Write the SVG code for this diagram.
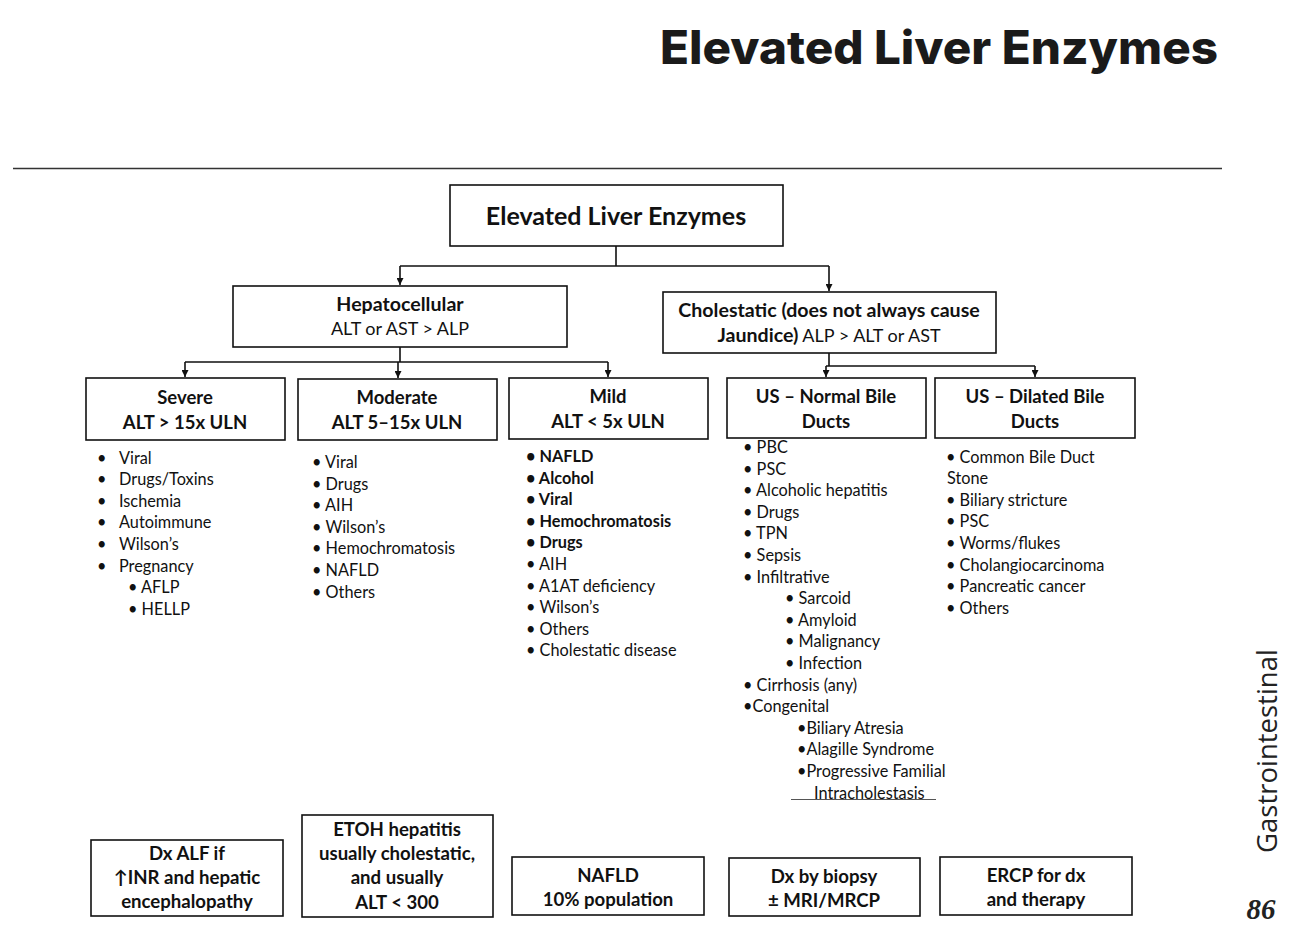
<svg xmlns="http://www.w3.org/2000/svg" width="1293" height="944" viewBox="0 0 1293 944">
<defs>
<style>
.box{fill:#fff;stroke:#111;stroke-width:1.6}
.ln{fill:none;stroke:#111;stroke-width:1.6}
.t{font-family:Lato,"Liberation Sans",sans-serif;fill:#111}
.hd{font-size:18.5px;font-weight:700;text-anchor:middle}
.sub{font-size:18px;text-anchor:middle}
.li{font-size:16.3px}
.b{font-weight:700}
.bt{font-size:18.6px;font-weight:700;text-anchor:middle}
</style>
<marker id="ar" viewBox="0 0 10 10" refX="10" refY="5" markerWidth="7" markerHeight="7" markerUnits="userSpaceOnUse" orient="auto">
<path d="M0,0 L10,5 L0,10 z" fill="#111"/>
</marker>
</defs>
<rect width="1293" height="944" fill="#fff"/>
<text x="1218" y="64" text-anchor="end" textLength="558" lengthAdjust="spacingAndGlyphs" style="font-family:Inter,'Open Sans',sans-serif;font-size:46px;font-weight:800;fill:#1a1a1a">Elevated Liver Enzymes</text>
<line x1="13" y1="168.5" x2="1222" y2="168.5" stroke="#333" stroke-width="1.3"/>

<g id="connectors">
<path class="ln" d="M616,246 V266 M400,266 H829"/>
<path class="ln" d="M400,266 V285" marker-end="url(#ar)"/>
<path class="ln" d="M829,266 V291" marker-end="url(#ar)"/>
<path class="ln" d="M400,347 V362 M185,362 H608"/>
<path class="ln" d="M185,362 V377" marker-end="url(#ar)"/>
<path class="ln" d="M398,362 V378" marker-end="url(#ar)"/>
<path class="ln" d="M608,362 V377" marker-end="url(#ar)"/>
<path class="ln" d="M829,353 V366 M826,366 H1035"/>
<path class="ln" d="M826,366 V377" marker-end="url(#ar)"/>
<path class="ln" d="M1035,366 V377" marker-end="url(#ar)"/>
</g>

<g id="root">
<rect class="box" x="450" y="185" width="333" height="61"/>
<text class="t" x="616" y="225" text-anchor="middle" style="font-size:25px;font-weight:700">Elevated Liver Enzymes</text>
</g>

<g id="hepatocellular">
<rect class="box" x="233" y="286" width="334" height="61"/>
<text class="t hd" x="400" y="311" style="font-size:19.6px">Hepatocellular</text>
<text class="t sub" x="400" y="335">ALT or AST &gt; ALP</text>
</g>

<g id="cholestatic">
<rect class="box" x="663" y="292" width="333" height="61"/>
<text class="t hd" x="829" y="317" style="font-size:19.6px">Cholestatic (does not always cause</text>
<text class="t sub" x="829" y="342"><tspan class="b" style="font-size:19.6px">Jaundice)</tspan> ALP &gt; ALT or AST</text>
</g>

<g id="severe">
<rect class="box" x="86" y="378" width="199" height="62"/>
<text class="t hd" x="185" y="404">Severe</text>
<text class="t hd" x="185" y="429">ALT &gt; 15x ULN</text>
<g class="t li">
<text x="97" y="464">•</text><text x="119" y="464">Viral</text>
<text x="97" y="485">•</text><text x="119" y="485">Drugs/Toxins</text>
<text x="97" y="507">•</text><text x="119" y="507">Ischemia</text>
<text x="97" y="528">•</text><text x="119" y="528">Autoimmune</text>
<text x="97" y="550">•</text><text x="119" y="550">Wilson’s</text>
<text x="97" y="572">•</text><text x="119" y="572">Pregnancy</text>
<text x="128" y="593">• AFLP</text>
<text x="128" y="615">• HELLP</text>
</g>
</g>

<g id="moderate">
<rect class="box" x="298" y="379" width="199" height="61"/>
<text class="t hd" x="397" y="404">Moderate</text>
<text class="t hd" x="397" y="429">ALT 5–15x ULN</text>
<g class="t li">
<text x="312" y="468">• Viral</text>
<text x="312" y="490">• Drugs</text>
<text x="312" y="511">• AIH</text>
<text x="312" y="533">• Wilson’s</text>
<text x="312" y="554">• Hemochromatosis</text>
<text x="312" y="576">• NAFLD</text>
<text x="312" y="598">• Others</text>
</g>
</g>

<g id="mild">
<rect class="box" x="509" y="378" width="199" height="61"/>
<text class="t hd" x="608" y="403">Mild</text>
<text class="t hd" x="608" y="428">ALT &lt; 5x ULN</text>
<g class="t li">
<text x="526" y="462" class="b">• NAFLD</text>
<text x="526" y="484" class="b">• Alcohol</text>
<text x="526" y="505" class="b">• Viral</text>
<text x="526" y="527" class="b">• Hemochromatosis</text>
<text x="526" y="548" class="b">• Drugs</text>
<text x="526" y="570">• AIH</text>
<text x="526" y="592">• A1AT deficiency</text>
<text x="526" y="613">• Wilson’s</text>
<text x="526" y="635">• Others</text>
<text x="526" y="656">• Cholestatic disease</text>
</g>
</g>

<g id="us-normal">
<rect class="box" x="727" y="378" width="199" height="60"/>
<text class="t hd" x="826" y="403">US – Normal Bile</text>
<text class="t hd" x="826" y="428">Ducts</text>
<g class="t li">
<text x="743" y="453">• PBC</text>
<text x="743" y="475">• PSC</text>
<text x="743" y="496">• Alcoholic hepatitis</text>
<text x="743" y="518">• Drugs</text>
<text x="743" y="539">• TPN</text>
<text x="743" y="561">• Sepsis</text>
<text x="743" y="583">• Infiltrative</text>
<text x="785" y="604">• Sarcoid</text>
<text x="785" y="626">• Amyloid</text>
<text x="785" y="647">• Malignancy</text>
<text x="785" y="669">• Infection</text>
<text x="743" y="691">• Cirrhosis (any)</text>
<text x="743" y="712">•Congenital</text>
<text x="797" y="734">•Biliary Atresia</text>
<text x="797" y="755">•Alagille Syndrome</text>
<text x="797" y="777">•Progressive Familial</text>
<text x="814" y="799">Intracholestasis</text>
</g>
<line x1="791" y1="799.5" x2="936" y2="799.5" stroke="#555" stroke-width="1"/>
</g>

<g id="us-dilated">
<rect class="box" x="935" y="378" width="200" height="60"/>
<text class="t hd" x="1035" y="403">US – Dilated Bile</text>
<text class="t hd" x="1035" y="428">Ducts</text>
<g class="t li">
<text x="946" y="463">• Common Bile Duct</text>
<text x="947" y="484">Stone</text>
<text x="946" y="506">• Biliary stricture</text>
<text x="946" y="527">• PSC</text>
<text x="946" y="549">• Worms/flukes</text>
<text x="946" y="571">• Cholangiocarcinoma</text>
<text x="946" y="592">• Pancreatic cancer</text>
<text x="946" y="614">• Others</text>
</g>
</g>

<g id="note-alf">
<rect class="box" x="91" y="840" width="192" height="76"/>
<text class="t bt" x="187" y="860">Dx ALF if</text>
<text class="t bt" x="187" y="884">↑INR and hepatic</text>
<text class="t bt" x="187" y="908">encephalopathy</text>
</g>

<g id="note-etoh">
<rect class="box" x="302" y="815" width="191" height="102"/>
<text class="t bt" x="397" y="836">ETOH hepatitis</text>
<text class="t bt" x="397" y="860">usually cholestatic,</text>
<text class="t bt" x="397" y="884">and usually</text>
<text class="t bt" x="397" y="909">ALT &lt; 300</text>
</g>

<g id="note-nafld">
<rect class="box" x="512" y="857" width="192" height="58"/>
<text class="t bt" x="608" y="882">NAFLD</text>
<text class="t bt" x="608" y="906">10% population</text>
</g>

<g id="note-biopsy">
<rect class="box" x="729" y="858" width="191" height="58"/>
<text class="t bt" x="824" y="883">Dx by biopsy</text>
<text class="t bt" x="824" y="907">± MRI/MRCP</text>
</g>

<g id="note-ercp">
<rect class="box" x="940" y="857" width="192" height="58"/>
<text class="t bt" x="1036" y="882">ERCP for dx</text>
<text class="t bt" x="1036" y="906">and therapy</text>
</g>

<text transform="translate(1277,853) rotate(-90)" style="font-family:'Open Sans','Liberation Sans',sans-serif;font-size:27.5px;fill:#222">Gastrointestinal</text>
<text x="1261" y="919" text-anchor="middle" style="font-family:'Liberation Serif',serif;font-size:29px;font-weight:700;font-style:italic;fill:#222">86</text>
</svg>
